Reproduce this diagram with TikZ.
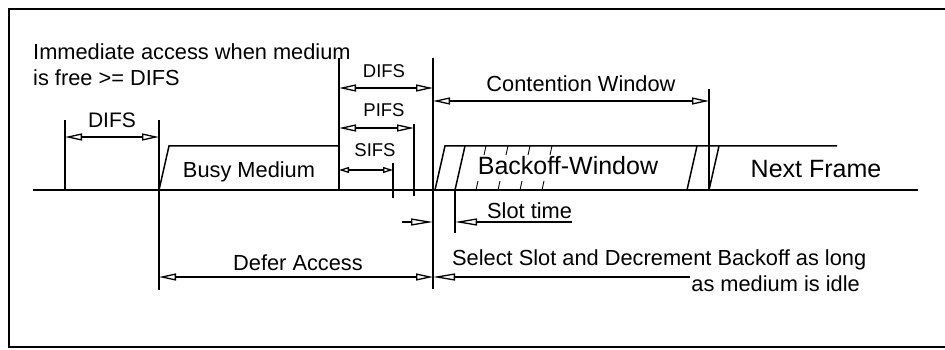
\documentclass[tikz,border=0pt]{standalone}
\usepackage{fontspec}
\setmainfont{Liberation Sans}
\usetikzlibrary{arrows.meta}

\tikzset{
  txt/.style={inner sep=0pt, anchor=base, font=\fontsize{21.8}{26}\selectfont},
  smalltxt/.style={inner sep=0pt, anchor=base, font=\fontsize{18.5}{20}\selectfont},
  bigtxt/.style={inner sep=0pt, anchor=base, font=\fontsize{25}{28}\selectfont},
  bar/.style={line width=1.5pt},
  medium/.style={line width=2.4pt},
  dim/.style={line width=1.3pt, {Triangle[open,length=17pt,width=7pt]}-{Triangle[open,length=17pt,width=7pt]}},
  ldim/.style={line width=1.3pt, {Triangle[open,length=22pt,width=7pt]}-},
  rdim/.style={line width=1.3pt, -{Triangle[open,length=22pt,width=7pt]}},
  sdim/.style={line width=1.3pt, {Triangle[open,length=10pt,width=6pt]}-{Triangle[open,length=10pt,width=6pt]}}
}

\begin{document}
\begin{tikzpicture}[x=1pt, y=-1pt]

    \useasboundingbox (0,0) rectangle (945,350);
    \draw[line width=2.8pt] (9,9) rectangle (975,347);

    % time axis and frames
    \draw[medium] (33,190) -- (918,190);
    \draw[bar] (159,190) -- (169,146) -- (339,146);
    \draw[bar] (435,190) -- (445,146) -- (837,146);
    \draw[bar] (455,190) -- (465,146);
    \draw[bar] (687,190) -- (697,146);
    \draw[bar] (709,190) -- (719,146);
    \foreach \x in {476,498,520,542}{
        \draw[line width=0.9pt] (\x,190) -- ++(2,-9);
        \draw[line width=0.9pt] (\x+8,155) -- ++(2,-9);
    }

    % vertical markers
    \foreach \x/\t/\b in {65/120/190, 159/120/290, 339/58/190, 393/163/198,
                          414/124/196, 433/58/289, 455/190/233, 709/89/190}{
        \draw[bar] (\x,\t) -- (\x,\b);
    }

    % end points of the dimension arrows
    \coordinate (difsL) at (65,137);
    \coordinate (difsR) at (159,137);
    \coordinate (difsTL) at (339,88);
    \coordinate (difsTR) at (433,88);
    \coordinate (pifsL) at (339,128);
    \coordinate (pifsR) at (414,128);
    \coordinate (sifsL) at (339,170);
    \coordinate (sifsR) at (393,170);
    \coordinate (cwL) at (433,101);
    \coordinate (cwR) at (709,101);
    \coordinate (slotA) at (402,222);
    \coordinate (slotB) at (433,222);
    \coordinate (slotC) at (455,222);
    \coordinate (slotD) at (572,222);
    \coordinate (deferL) at (159,277);
    \coordinate (deferR) at (433,277);
    \coordinate (selEnd) at (690,277);

    \draw[dim] (difsL) -- (difsR);
    \draw[dim] (difsTL) -- (difsTR);
    \draw[dim] (pifsL) -- (pifsR);
    \draw[sdim] (sifsL) -- (sifsR);
    \draw[dim] (cwL) -- (cwR);
    \draw[rdim] (slotA) -- (slotB);
    \draw[ldim] (slotC) -- (slotD);
    \draw[dim] (deferL) -- (deferR);
    \draw[ldim] (deferR) -- (selEnd);

    % labels
    \node[txt, anchor=north west, align=left] (imm) at (33,44)
        {Immediate access when medium\\is free >= DIFS};
    \node[smalltxt, font=\fontsize{21}{22}\selectfont] (difs1) at (112,128) {DIFS};
    \node[smalltxt] (difs2) at (384,78) {DIFS};
    \node[smalltxt] (pifs) at (384,117) {PIFS};
    \node[smalltxt] (sifs) at (375,157) {SIFS};
    \node[txt] (cw) at (581,92) {Contention Window};
    \node[txt] (busy) at (249,177) {Busy Medium};
    \node[bigtxt] (bow) at (568,175) {Backoff-Window};
    \node[bigtxt] (next) at (816,177) {Next Frame};
    \node[txt, anchor=base west] (slot) at (487,218) {Slot time};
    \node[txt] (defer) at (298,270) {Defer Access};
    \node[txt, anchor=base west] (sel) at (452,265) {Select Slot and Decrement Backoff as long};
    \node[txt, anchor=base east] (idle) at (860,291) {as medium is idle};

\end{tikzpicture}
\end{document}
